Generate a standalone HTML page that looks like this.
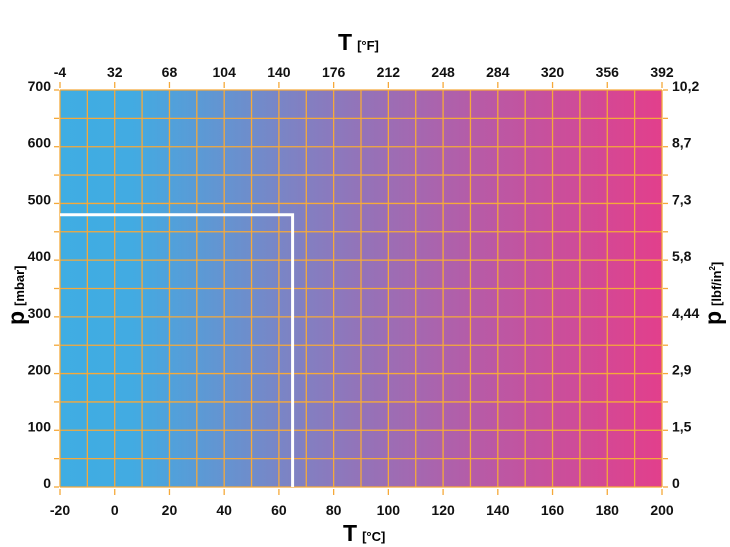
<!DOCTYPE html>
<html><head><meta charset="utf-8"><style>
html,body{margin:0;padding:0;background:#fff;}
svg{display:block;font-family:"Liberation Sans",Arial,sans-serif;font-weight:bold;}
</style></head><body>
<svg id="c" width="730" height="547" viewBox="0 0 730 547">
<defs>
<linearGradient id="g" x1="0" x2="1" y1="0" y2="0">
<stop offset="0" stop-color="#3fade3"/>
<stop offset="0.12" stop-color="#42abe2"/>
<stop offset="0.4" stop-color="#8180c2"/>
<stop offset="0.7" stop-color="#b85aa6"/>
<stop offset="1" stop-color="#e23f8c"/>
</linearGradient>
</defs>
<rect x="60" y="90" width="602" height="397" fill="url(#g)"/>
<g id="grid"></g>
<g id="ticks"></g>
<g id="mark"></g>
<text x="343" y="541" font-size="23"><tspan>T</tspan><tspan font-size="13" dx="5">[°C]</tspan></text>
<text x="338" y="50" font-size="23"><tspan>T</tspan><tspan font-size="13" dx="5">[°F]</tspan></text>
<text transform="translate(24,325) rotate(-90)" font-size="23"><tspan>p</tspan><tspan font-size="13" dx="5">[mbar]</tspan></text>
<text transform="translate(721,325) rotate(-90)" font-size="23"><tspan>p</tspan><tspan font-size="13" dx="5">[lbf/in</tspan><tspan font-size="8" dy="-6">2</tspan><tspan font-size="13" dy="6">]</tspan></text>
</svg>
<script>
const celsiusTicks = [-20,0,20,40,60,80,100,120,140,160,180,200];
const fahrenheitTicks = ["-4","32","68","104","140","176","212","248","284","320","356","392"];
const mbarTicks = [0,100,200,300,400,500,600,700];
const psiTicks = ["0","1,5","2,9","4,44","5,8","7,3","8,7","10,2"];
const markT = [65];
const markP = [480];
const NS="http://www.w3.org/2000/svg";
const L=60,R=662,T=90,B=487;
const xs=t=>L+(t+20)/220*(R-L);
const ys=p=>B-p/700*(B-T);
function el(tag,attrs,parent,txt){const e=document.createElementNS(NS,tag);for(const k in attrs)e.setAttribute(k,attrs[k]);if(txt!==undefined)e.textContent=txt;parent.appendChild(e);return e;}
const grid=document.getElementById('grid'),ticks=document.getElementById('ticks'),mark=document.getElementById('mark');
const OR="#f5a93a";
for(let t=-20;t<=200;t+=10){const l=el('line',{x1:xs(t),x2:xs(t),y1:T,y2:B,stroke:OR,'stroke-width':1.3},grid);

}
for(let p=0;p<=700;p+=50){const l=el('line',{x1:L,x2:R,y1:ys(p),y2:ys(p),stroke:OR,'stroke-width':1.3},grid);


el('line',{x1:L-6,x2:L-1,y1:ys(p),y2:ys(p),stroke:OR,'stroke-width':1.3},ticks);
el('line',{x1:R+1,x2:R+6,y1:ys(p),y2:ys(p),stroke:OR,'stroke-width':1.3},ticks);}
celsiusTicks.forEach(t=>{el('line',{x1:xs(t),x2:xs(t),y1:B+2,y2:B+8,stroke:OR,'stroke-width':1.3},ticks);
const tx=el('text',{x:xs(t),y:B+28,'text-anchor':'middle','font-size':14,fill:'#111'},ticks,String(t));

});
fahrenheitTicks.forEach((f,i)=>{const x=xs(celsiusTicks[i]);el('line',{x1:x,x2:x,y1:T-8,y2:T-2,stroke:OR,'stroke-width':1.3},ticks);
const tx=el('text',{x:x,y:T-13,'text-anchor':'middle','font-size':14,fill:'#111'},ticks,f);

});
mbarTicks.forEach(p=>{const tx=el('text',{x:L-9,y:ys(p)+1,'text-anchor':'end','font-size':14,fill:'#111'},ticks,String(p));

});
psiTicks.forEach((s,i)=>{const tx=el('text',{x:R+10,y:ys(mbarTicks[i])+1,'font-size':14,fill:'#111'},ticks,s);

});
const pl=el('polyline',{points:`${L},${ys(markP[0])} ${xs(markT[0])},${ys(markP[0])} ${xs(markT[0])},${B}`,fill:'none',stroke:'#fff','stroke-width':3},mark);


</script>
</body></html>
